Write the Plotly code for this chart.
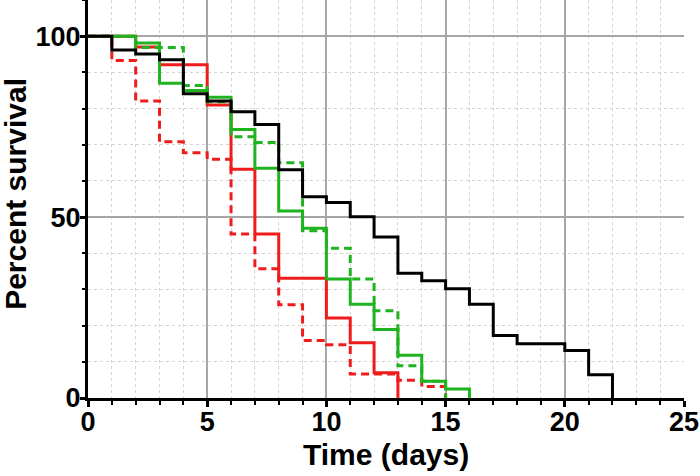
import plotly.graph_objects as go

# ---- data (Kaplan-Meier style step curves) ----
black_days = [0, 1, 2, 3, 4, 5, 6, 7, 8, 9, 10, 11, 12, 13, 14, 15, 16, 17, 18, 19, 20, 21, 22]
black_surv = [100, 96.2, 95.1, 93.5, 84.1, 82.1, 79.1, 75.6, 63.1, 55.6, 54.0, 50.1, 44.5,
              34.5, 32.4, 30.2, 25.9, 17.3, 15.0, 15.0, 13.1, 6.4, 0]

green_solid_days = [0, 1, 2, 3, 4, 5, 6, 7, 8, 9, 10, 11, 12, 13, 14, 15, 16]
green_solid_surv = [100, 100, 98.1, 87.0, 85.0, 83.1, 74.2, 63.5, 51.7, 46.9, 32.9, 25.9,
                    18.9, 11.8, 4.6, 2.5, 0]

green_dash_days = [0, 1, 2, 3, 4, 5, 6, 7, 8, 9, 10, 11, 12, 13, 14, 15]
green_dash_surv = [100, 100, 96.9, 96.9, 86.4, 81.9, 72.2, 70.6, 65.0, 46.2, 41.4, 32.9,
                   24.1, 8.9, 4.6, 0]

red_solid_days = [0, 1, 2, 3, 4, 5, 6, 7, 8, 9, 10, 11, 12, 13]
red_solid_surv = [100, 100, 97.0, 92.1, 92.1, 81.0, 63.2, 45.3, 33.1, 33.1, 22.1, 15.3, 7.0, 0]

red_dash_days = [0, 1, 2, 3, 4, 5, 6, 7, 8, 9, 10, 11, 12, 13, 14, 15]
red_dash_surv = [100, 93.3, 82.1, 70.8, 67.8, 66.0, 45.3, 35.7, 25.8, 15.9, 14.7, 6.6, 6.6,
                 4.9, 3.2, 0]

x_tickvals = [0, 5, 10, 15, 20, 25]
y_tickvals = [0, 50, 100]
x_title = "Time (days)"
y_title = "Percent survival"

RED = "#f01c1c"
GREEN = "#1fb41f"
DASH = "8px,5px"

fig = go.Figure()

def add(days, surv, color, dash):
    fig.add_trace(go.Scatter(
        x=days, y=surv, mode="lines", line_shape="hv",
        line=dict(color=color, width=3, dash=dash), hoverinfo="skip"))

add(red_dash_days, red_dash_surv, RED, DASH)
add(red_solid_days, red_solid_surv, RED, "solid")
add(green_dash_days, green_dash_surv, GREEN, DASH)
add(green_solid_days, green_solid_surv, GREEN, "solid")
add(black_days, black_surv, "black", "solid")

FAM = "Liberation Sans, Arial, sans-serif"
tickfont = dict(family=FAM, size=27, color="black", weight="bold")
titlefont = dict(family=FAM, size=30, color="black", weight="bold")

fig.update_xaxes(
    range=[0, 25], tickvals=x_tickvals, ticktext=[str(v) for v in x_tickvals],
    showline=True, linecolor="black", linewidth=3,
    ticks="outside", ticklen=6, tickwidth=2.5, tickcolor="black",
    showgrid=True, gridcolor="#a6a6a6", gridwidth=1.5, zeroline=False,
    minor=dict(dtick=1, tick0=0, ticks="outside", ticklen=4, tickwidth=2, tickcolor="black",
               showgrid=True, gridcolor="#d4d4d4", griddash="dot", gridwidth=1),
    tickfont=tickfont, ticklabelstandoff=-8,
)
fig.update_yaxes(
    range=[0, 110], tickvals=y_tickvals, ticktext=[str(v) for v in y_tickvals],
    showline=True, linecolor="black", linewidth=3,
    ticks="outside", ticklen=5, tickwidth=2.5, tickcolor="black",
    showgrid=True, gridcolor="#a6a6a6", gridwidth=1.5, zeroline=False,
    minor=dict(dtick=10, tick0=0, ticks="outside", ticklen=3, tickwidth=2, tickcolor="black",
               showgrid=True, gridcolor="#d4d4d4", griddash="dot", gridwidth=1),
    tickfont=tickfont, ticklabelstandoff=-6,
)

fig.add_annotation(text=x_title, xref="paper", yref="paper", x=0.5, y=-0.142,
                   xanchor="center", yanchor="middle", showarrow=False, font=titlefont)
fig.add_annotation(text=y_title, xref="paper", yref="paper", x=-0.1208, y=0.513,
                   xanchor="center", yanchor="middle", textangle=-90, showarrow=False,
                   font=titlefont)

fig.update_layout(
    width=700, height=476,
    margin=dict(l=88, r=16, t=0, b=78, autoexpand=False),
    plot_bgcolor="white", paper_bgcolor="white",
    showlegend=False,
)

fig.write_html("out.html", config={"displayModeBar": False},
               post_script="document.body.style.margin='0';")
